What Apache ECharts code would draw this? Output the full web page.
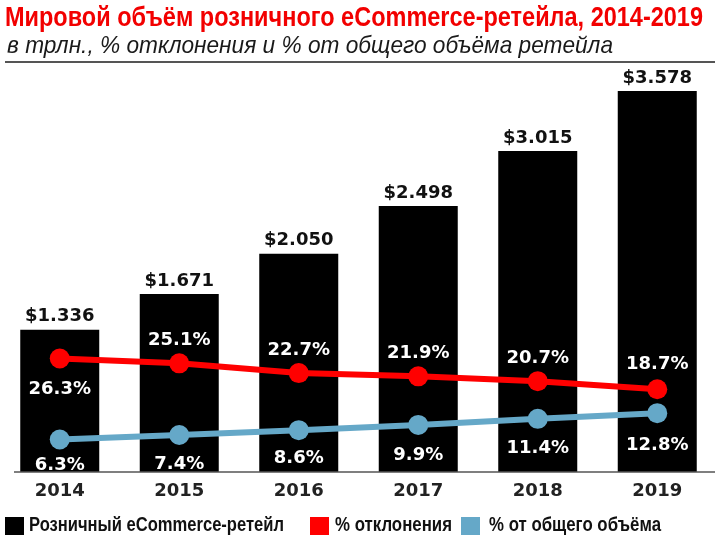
<!DOCTYPE html>
<html><head><meta charset="utf-8">
<script src="https://cdn.jsdelivr.net/npm/echarts@6/dist/echarts.min.js"></script>
<style>html,body{margin:0;padding:0;background:#fff}#c{width:720px;height:551px}</style>
</head><body><div id="c"></div>
<script>
const years = ['2014','2015','2016','2017','2018','2019'];
const retail = [1.336, 1.671, 2.050, 2.498, 3.015, 3.578];
const growth = [26.3, 25.1, 22.7, 21.9, 20.7, 18.7];
const share = [6.3, 7.4, 8.6, 9.9, 11.4, 12.8];
const retailLabels = ['$1.336','$1.671','$2.050','$2.498','$3.015','$3.578'];
const growthPos = ['bottom','top','top','top','top','top'];
const growthDist = [12, 4, 4, 4, 4, 6];
const shareDist = [7, 10, 9, 11, 10, 13];
const seriesNames = ['Розничный eCommerce-ретейл', '% отклонения', '% от общего объёма'];
const colors = ['#000000', '#ff0000', '#65a8c8'];

const SANS = '"Liberation Sans", Arial, sans-serif';
const WIDE = '"DejaVu Sans", sans-serif';

const ctx = document.createElement('canvas').getContext('2d');
function measure(text, font) { ctx.font = font; return ctx.measureText(text).width; }

// condensed text: scale horizontally so text spans target width
function condText(text, x, y, size, weight, style, color, targetW) {
  const font = style + ' ' + weight + ' ' + size + 'px ' + SANS;
  const w = measure(text, font);
  return {type: 'text', x: x, y: y, scaleX: targetW / w, scaleY: 1, z: 100,
    style: {text: text, fontFamily: SANS, fontSize: size, fontWeight: weight, fontStyle: style,
      fill: color, textAlign: 'left', textVerticalAlign: 'top', verticalAlign: 'top'}};
}

const legendIcons = [5, 310, 461];
const legendTexts = [[29, 255], [335, 117], [489, 172]];
const graphics = [
  condText('Мировой объём розничного eCommerce-ретейла, 2014-2019', 5, 4, 28, 'bold', 'normal', '#f20000', 698),
  condText('в трлн., % отклонения и % от общего объёма ретейла', 7, 34, 24, 'normal', 'italic', '#1a1a1a', 606),
  {type: 'line', shape: {x1: 5, y1: 62, x2: 715, y2: 62}, style: {stroke: '#555', lineWidth: 2}},
  {type: 'line', z: 10, shape: {x1: 14, y1: 472, x2: 715, y2: 472}, style: {stroke: '#555', lineWidth: 1.5}}
];
seriesNames.forEach((n, i) => {
  graphics.push({type: 'rect', shape: {x: legendIcons[i], y: 517, width: 19, height: 18},
    style: {fill: colors[i]}});
  graphics.push(condText(n, legendTexts[i][0], 515, 21, 'bold', 'normal', '#111', legendTexts[i][1]));
});

const chart = echarts.init(document.getElementById('c'), null, {renderer:'canvas'});
chart.setOption({
  animation: false,
  backgroundColor: '#fff',
  graphic: graphics,
  grid: [
    {left: 0, right: 3, top: 46, bottom: 79},
    {left: 0, right: 3, top: 60, bottom: 86}
  ],
  xAxis: [
    {type: 'category', gridIndex: 0, data: years,
     axisLine: {show: false}, axisTick: {show: false},
     axisLabel: {margin: 10, fontFamily: WIDE, fontWeight: 'bold', fontSize: 18, color: '#222'}},
    {type: 'category', gridIndex: 1, data: years, show: false}
  ],
  yAxis: [
    {type: 'value', gridIndex: 0, min: 0, max: 4, show: false},
    {type: 'value', gridIndex: 1, min: 0, max: 100, show: false}
  ],
  series: [
    {name: seriesNames[0], type: 'bar', xAxisIndex: 0, yAxisIndex: 0,
     barWidth: 79, itemStyle: {color: colors[0]},
     data: retail,
     label: {show: true, position: 'top', distance: 4,
       formatter: p => retailLabels[p.dataIndex],
       fontFamily: WIDE, fontWeight: 'bold', fontSize: 18, color: '#111'}},
    {name: seriesNames[1], type: 'line', xAxisIndex: 1, yAxisIndex: 1,
     symbol: 'circle', symbolSize: 20, color: colors[1],
     lineStyle: {width: 6, color: colors[1]}, itemStyle: {color: colors[1]},
     data: growth.map((v, i) => ({value: v, label: {position: growthPos[i], distance: growthDist[i]}})),
     label: {show: true, formatter: p => p.value.toFixed(1) + '%',
       fontFamily: WIDE, fontWeight: 'bold', fontSize: 18, color: '#fff'}},
    {name: seriesNames[2], type: 'line', xAxisIndex: 1, yAxisIndex: 1,
     symbol: 'circle', symbolSize: 20, color: colors[2],
     lineStyle: {width: 6, color: colors[2]}, itemStyle: {color: colors[2]},
     data: share.map((v, i) => ({value: v, label: {distance: shareDist[i]}})),
     label: {show: true, position: 'bottom', formatter: p => p.value.toFixed(1) + '%',
       fontFamily: WIDE, fontWeight: 'bold', fontSize: 18, color: '#fff'}}
  ]
});
</script></body></html>
